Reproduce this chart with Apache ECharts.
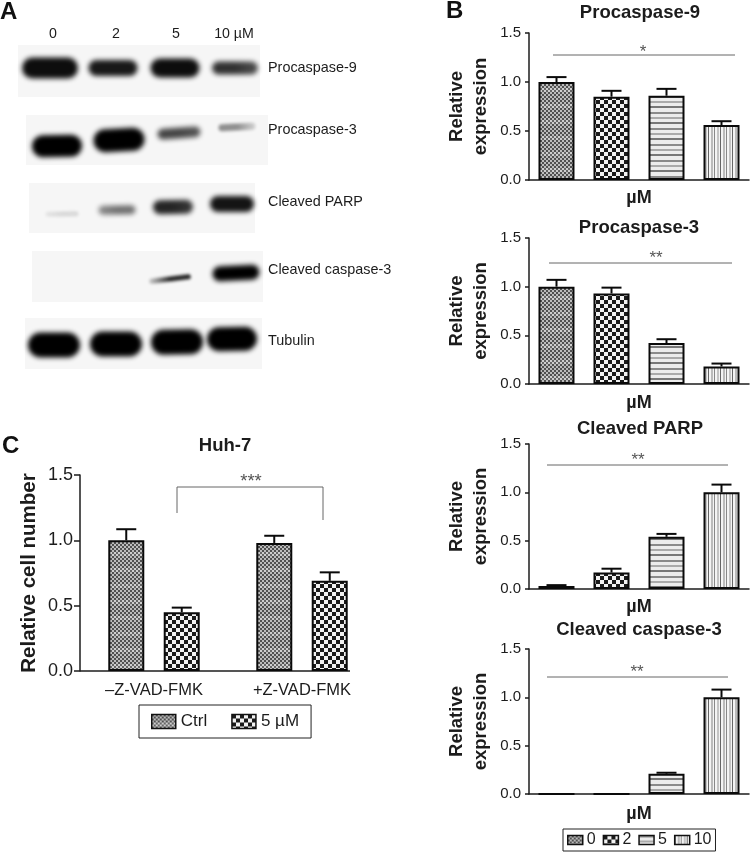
<!DOCTYPE html>
<html>
<head>
<meta charset="utf-8">
<style>
  html, body { margin: 0; padding: 0; background: #fff; }
  #main { width: 750px; height: 852px; }
</style>
<script src="https://cdn.jsdelivr.net/npm/echarts@6/dist/echarts.min.js"></script>
</head>
<body>
<div id="main"></div>
<script>
// panel B, one value per dose
var doses = ['0', '2', '5', '10']
var procasp9Mean = [1.0, 0.85, 0.86, 0.56]
var procasp9Err = [1.05, 0.91, 0.93, 0.60]
var procasp3Mean = [1.0, 0.93, 0.42, 0.18]
var procasp3Err = [1.07, 0.99, 0.46, 0.21]
var parpMean = [0.03, 0.17, 0.54, 1.0]
var parpErr = [0.04, 0.21, 0.57, 1.08]
var casp3Mean = [0, 0, 0.21, 1.0]
var casp3Err = [0, 0, 0.22, 1.08]

// panel C
var huhGroups = ['–Z-VAD-FMK', '+Z-VAD-FMK']
var huhCtrlMean = [1.0, 0.98]
var huhCtrlErr = [1.085, 1.035]
var huh5Mean = [0.45, 0.69]
var huh5Err = [0.485, 0.755]

// panel A, band darkness
var blotLanes = ['0', '2', '5', '10 µM']
var blotRows = ['Procaspase-9', 'Procaspase-3', 'Cleaved PARP', 'Cleaved caspase-3', 'Tubulin']
var blotDark = [
  [0.95, 0.9, 0.95, 0.8],
  [1, 1, 0.72, 0.42],
  [0.12, 0.55, 0.85, 0.92],
  [0, 0, 0.85, 1],
  [1, 1, 1, 1]
]

// layout of the bands, per row and lane: dx, dy, width, height, tilt, left fade, right fade
var blotShape = [
  [[0, -1, 56, 21, 0, 1, 1], [1, -1, 49, 16, 0, 1, 1], [1, -1, 49, 19, 0, 1, 1], [-1, -1, 46, 13, 0, 1, 0.85]],
  [[7, 9, 50, 22, -1, 1, 1], [7, 3, 51, 23, -3, 1, 1], [5, -4, 43, 11, -4, 1, 0.9], [1, -10, 37, 7, -3, 1, 0.35]],
  [[12, 9, 33, 5, -1, 0.6, 1], [5, 5, 37, 9, -1, 0.8, 1], [-1, 2, 40, 14, -1, 1, 0.9], [-4, -1, 44, 16, 0, 1, 1]],
  [[0, 0, 0, 0, 0, 1, 1], [0, 0, 0, 0, 0, 1, 1], [-4, 6, 42, 5, -7, 0.2, 1], [0, 0, 47, 15, -3, 1, 1]],
  [[4, 4, 52, 25, 0, 1, 1], [4, 3, 52, 25, 0, 1, 1], [3, 1, 52, 25, -1, 1, 1], [-4, -2, 50, 24, -1, 1, 1]]
]
var blotPanels = [
  [18, 45, 242, 52], [26, 115, 242, 50], [29, 183, 226, 50], [32, 251, 231, 51], [25, 318, 237, 51]
]
var blotLabelY = [68, 130, 202, 270, 341]
var blotLaneX = [53, 116, 176, 234]

var FONT = 'Liberation Sans'
var INK = '#1c1c1c'

function tile (w, h, draw) {
  var c = document.createElement('canvas')
  c.width = w
  c.height = h
  draw(c.getContext('2d'))
  return { image: c, repeat: 'repeat' }
}

var fillDither = tile(4, 16, function (ctx) {
  for (var y = 0; y < 16; y += 2) {
    for (var x = 0; x < 4; x += 2) {
      var on = ((x + y) / 2) % 2 === 0
      var lighter = y >= 8 && y < 12
      ctx.fillStyle = on ? (lighter ? '#666' : '#505050') : (lighter ? '#cfcfcf' : '#bcbcbc')
      ctx.fillRect(x, y, 2, 2)
    }
  }
})
var fillCheck = tile(8, 8, function (ctx) {
  ctx.fillStyle = '#f2f2f2'
  ctx.fillRect(0, 0, 8, 8)
  ctx.fillStyle = '#1a1a1a'
  ctx.fillRect(0, 0, 4, 4)
  ctx.fillRect(4, 4, 4, 4)
})
var fillHoriz = tile(4, 16, function (ctx) {
  ctx.fillStyle = '#ececec'
  ctx.fillRect(0, 0, 4, 16)
  ctx.fillStyle = '#8a8a8a'
  ctx.fillRect(0, 0, 4, 2)
  ctx.fillStyle = '#aaa'
  ctx.fillRect(0, 5, 4, 2)
  ctx.fillStyle = '#777'
  ctx.fillRect(0, 10, 4, 2)
})
var fillVert = tile(12, 4, function (ctx) {
  ctx.fillStyle = '#f4f4f4'
  ctx.fillRect(0, 0, 12, 4)
  ctx.fillStyle = '#666'
  ctx.fillRect(0, 0, 1, 4)
  ctx.fillStyle = '#bbb'
  ctx.fillRect(3, 0, 2, 4)
  ctx.fillStyle = '#888'
  ctx.fillRect(6, 0, 1, 4)
  ctx.fillStyle = '#c4c4c4'
  ctx.fillRect(9, 0, 2, 4)
})
var doseFills = [fillDither, fillCheck, fillHoriz, fillVert]

function bandImage (s, dark) {
  var w = s[2]
  var h = s[3]
  var pad = 16
  var c = document.createElement('canvas')
  c.width = w + pad * 2
  c.height = h + pad * 2 + Math.abs(s[4]) * 2
  var ctx = c.getContext('2d')
  ctx.filter = 'blur(' + (h > 8 ? 2.8 : 1.8) + 'px)'
  ctx.translate(c.width / 2, c.height / 2)
  ctx.rotate(s[4] * Math.PI / 180)
  var grad = ctx.createLinearGradient(-w / 2, 0, w / 2, 0)
  grad.addColorStop(0, 'rgba(0,0,0,' + dark * s[5] + ')')
  grad.addColorStop(0.5, 'rgba(0,0,0,' + dark + ')')
  grad.addColorStop(1, 'rgba(0,0,0,' + dark * s[6] + ')')
  ctx.fillStyle = grad
  ctx.beginPath()
  ctx.roundRect(-w / 2, -h / 2, w, h, h / 2)
  ctx.fill()
  return c
}

var grids = []
var xAxes = []
var yAxes = []
var series = []
var titles = []
var graphics = []

function text (str, x, y, size, opt) {
  opt = opt || {}
  graphics.push({
    type: 'text',
    x: x,
    y: y,
    style: {
      text: str,
      fontFamily: FONT,
      fontSize: size,
      fontWeight: opt.bold ? 'bold' : 'normal',
      fill: opt.fill || INK,
      align: opt.align || 'left',
      verticalAlign: 'middle'
    }
  })
}

function line (x1, y1, x2, y2, color, width) {
  graphics.push({
    type: 'line',
    shape: { x1: x1, y1: y1, x2: x2, y2: y2 },
    style: { stroke: color, lineWidth: width }
  })
}

function addTitle (str, x, y) {
  titles.push({
    text: str,
    left: x,
    top: y,
    padding: 0,
    textAlign: 'center',
    textVerticalAlign: 'middle',
    textStyle: { fontFamily: FONT, fontSize: 18.5, fontWeight: 'bold', color: INK }
  })
}

// one grid of bars with error caps, the error series just sit next to the bars
function addPanel (opt) {
  var idx = grids.length
  grids.push({ left: opt.left, top: opt.top, width: opt.width, height: opt.height })
  xAxes.push({
    type: 'category',
    gridIndex: idx,
    data: opt.categories,
    axisLine: { show: opt.showXLine, lineStyle: { color: INK, width: 1.5 } },
    axisTick: { alignWithLabel: true, length: 4, lineStyle: { color: INK, width: 1.5 } },
    axisLabel: {
      margin: opt.xMargin,
      color: INK,
      fontFamily: FONT,
      fontSize: opt.xSize,
      fontWeight: opt.xBold ? 'bold' : 'normal',
      interval: 0
    }
  })
  yAxes.push({
    type: 'value',
    gridIndex: idx,
    min: 0,
    max: 1.5,
    interval: 0.5,
    name: opt.yName,
    nameLocation: 'middle',
    nameRotate: 90,
    nameGap: opt.nameGap,
    nameTextStyle: {
      color: INK,
      fontFamily: FONT,
      fontSize: opt.nameSize,
      fontWeight: 'bold',
      lineHeight: opt.nameLine
    },
    splitLine: { show: false },
    axisLine: { show: true, lineStyle: { color: INK, width: 1.5 } },
    axisTick: { show: true, length: opt.tickLen, lineStyle: { color: INK, width: 1.5 } },
    axisLabel: {
      margin: opt.yMargin,
      color: INK,
      fontFamily: FONT,
      fontSize: opt.ySize,
      formatter: function (v) { return v.toFixed(1) }
    }
  })
  opt.groups.forEach(function (g, i) {
    series.push({
      type: 'bar',
      name: g.name,
      xAxisIndex: idx,
      yAxisIndex: idx,
      barWidth: opt.barWidth,
      barGap: opt.barGap,
      data: g.mean,
      itemStyle: { color: g.fill, borderColor: '#0a0a0a', borderWidth: 2 },
      emphasis: { disabled: true },
      z: 3
    })
    var shift = (i - (opt.groups.length - 1) / 2) * opt.pitch
    series.push({
      type: 'custom',
      xAxisIndex: idx,
      yAxisIndex: idx,
      silent: true,
      z: 2,
      data: g.mean.map(function (m, k) { return [k, m, g.err[k]] }),
      renderItem: function (params, api) {
        var base = api.coord([api.value(0), api.value(1)])
        var topY = api.coord([api.value(0), api.value(2)])[1]
        var x = base[0] + shift
        if (api.value(2) === 0) return { type: 'group', children: [] }
        var st = { stroke: '#0a0a0a', lineWidth: 2 }
        return {
          type: 'group',
          children: [
            { type: 'line', shape: { x1: x, y1: base[1], x2: x, y2: topY }, style: st },
            { type: 'line', shape: { x1: x - opt.capHalf, y1: topY, x2: x + opt.capHalf, y2: topY }, style: st }
          ]
        }
      }
    })
  })
}

function addDosePanel (title, mean, err, top, height, sig) {
  addPanel({
    left: 529,
    top: top,
    width: 220,
    height: height,
    categories: ['µM'],
    showXLine: true,
    xBold: true,
    xSize: 18,
    xMargin: sig.xMargin,
    yName: 'Relative\nexpression',
    nameSize: 18.5,
    nameLine: 24,
    nameGap: 36,
    ySize: 15,
    yMargin: 8,
    tickLen: 4,
    barWidth: 36,
    barGap: '52.8%',
    pitch: 55,
    capHalf: 10,
    groups: doses.map(function (d, i) {
      return {
        name: d,
        fill: doseFills[i],
        mean: [mean[i]],
        err: [err[i]]
      }
    })
  })
  addTitle(title, sig.titleX, sig.titleY)
  line(sig.x1, sig.y, sig.x2, sig.y, '#666', 1)
  text(sig.stars, sig.starX, sig.starY, 17, { align: 'center', fill: '#555' })
}

addDosePanel('Procaspase-9', procasp9Mean, procasp9Err, 33, 147,
  { titleX: 640, titleY: 13, x1: 553, x2: 735, y: 55, stars: '*', starX: 643, starY: 52, xMargin: 9 })
addDosePanel('Procaspase-3', procasp3Mean, procasp3Err, 238, 146,
  { titleX: 639, titleY: 228, x1: 549, x2: 732, y: 263, stars: '**', starX: 656, starY: 258, xMargin: 10 })
addDosePanel('Cleaved PARP', parpMean, parpErr, 444, 145,
  { titleX: 640, titleY: 429, x1: 547, x2: 728, y: 465, stars: '**', starX: 638, starY: 460, xMargin: 9 })
addDosePanel('Cleaved caspase-3', casp3Mean, casp3Err, 649, 145,
  { titleX: 639, titleY: 630, x1: 547, x2: 728, y: 677, stars: '**', starX: 637, starY: 672, xMargin: 11 })

// panel C, axis line is drawn by hand because it stops short of the last band
addPanel({
  left: 80,
  top: 475,
  width: 296,
  height: 196,
  categories: huhGroups,
  showXLine: false,
  xBold: false,
  xSize: 16.5,
  xMargin: 11,
  yName: 'Relative cell number',
  nameSize: 20.5,
  nameLine: 24,
  nameGap: 39,
  ySize: 18,
  yMargin: 7,
  tickLen: 6,
  barWidth: 36,
  barGap: '54%',
  pitch: 55.5,
  capHalf: 10,
  groups: [
    { name: 'Ctrl', fill: fillDither, mean: huhCtrlMean, err: huhCtrlErr },
    { name: '5 µM', fill: fillCheck, mean: huh5Mean, err: huh5Err }
  ]
})
line(80, 671, 350, 671, INK, 1.5)
addTitle('Huh-7', 225, 446)
graphics.push({
  type: 'polyline',
  shape: { points: [[177, 513], [177, 487], [323, 487], [323, 520]] },
  style: { stroke: '#666', lineWidth: 1, fill: null }
})
text('***', 251, 482, 18.5, { align: 'center', fill: '#555' })

// panel A, blot drawn on a hidden lane by row grid
var blotIdx = grids.length
grids.push({ left: 19, top: 35, width: 248, height: 340 })
xAxes.push({ type: 'category', gridIndex: blotIdx, data: blotLanes, show: false })
yAxes.push({ type: 'category', gridIndex: blotIdx, data: blotRows, inverse: true, show: false })
var blotData = []
blotDark.forEach(function (row, r) {
  row.forEach(function (d, l) {
    if (d > 0) blotData.push([l, r, d])
  })
})
series.push({
  type: 'custom',
  xAxisIndex: blotIdx,
  yAxisIndex: blotIdx,
  silent: true,
  data: blotData,
  renderItem: function (params, api) {
    var l = api.value(0)
    var r = api.value(1)
    var s = blotShape[r][l]
    var p = api.coord([l, r])
    var img = bandImage(s, api.value(2))
    return {
      type: 'image',
      style: {
        image: img,
        x: p[0] + s[0] - img.width / 2,
        y: p[1] + s[1] - img.height / 2,
        width: img.width,
        height: img.height
      }
    }
  }
})
blotPanels.forEach(function (b) {
  graphics.unshift({
    type: 'rect',
    shape: { x: b[0], y: b[1], width: b[2], height: b[3] },
    style: { fill: '#f6f6f6' }
  })
})
blotRows.forEach(function (name, i) {
  text(name, 268, blotLabelY[i], 14.4)
})
blotLanes.forEach(function (name, i) {
  text(name, blotLaneX[i], 34, 14.2, { align: 'center' })
})

text('A', 0, 12, 24, { bold: true, fill: '#111' })
text('B', 446, 11, 24, { bold: true, fill: '#111' })
text('C', 2, 446, 24, { bold: true, fill: '#111' })

var chart = echarts.init(document.getElementById('main'), null, { renderer: 'canvas' })
chart.setOption({
  animation: false,
  backgroundColor: '#fff',
  title: titles,
  tooltip: { show: false },
  grid: grids,
  xAxis: xAxes,
  yAxis: yAxes,
  legend: [
    {
      data: doses,
      left: 563,
      top: 829,
      orient: 'horizontal',
      icon: 'rect',
      itemWidth: 15,
      itemHeight: 9,
      itemGap: 7,
      padding: [3, 4],
      borderColor: '#222',
      borderWidth: 1,
      selectedMode: false,
      itemStyle: { borderColor: '#111', borderWidth: 1.5 },
      textStyle: { fontFamily: FONT, fontSize: 16, color: INK, padding: [0, 0, 0, -1] }
    },
    {
      data: ['Ctrl', '5 µM'],
      left: 139,
      top: 705,
      orient: 'horizontal',
      icon: 'rect',
      itemWidth: 24,
      itemHeight: 14,
      itemGap: 24,
      padding: [8, 12],
      borderColor: '#222',
      borderWidth: 1,
      selectedMode: false,
      itemStyle: { borderColor: '#111', borderWidth: 1.5 },
      textStyle: { fontFamily: FONT, fontSize: 17, color: INK }
    }
  ],
  graphic: { elements: graphics },
  series: series
})
</script>
</body>
</html>
